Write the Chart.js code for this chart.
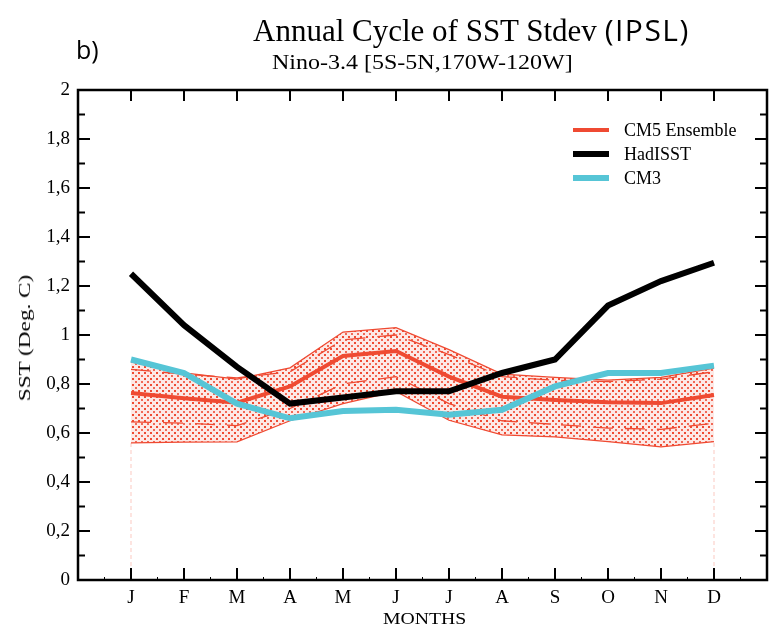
<!DOCTYPE html>
<html>
<head>
<meta charset="utf-8">
<script src="https://cdn.jsdelivr.net/npm/chart.js@4"></script>
<style>
  body { margin: 0; background: #fff; }
  #wrap { position: relative; width: 771px; height: 630px; }
  .t { position: absolute; white-space: nowrap; color: #000; line-height: 1; }
  #title { left: 253px; top: 9px; font: 31px "Liberation Serif", serif; }
  #title span { font: 30px "Open Sans", sans-serif; letter-spacing: 1.5px; }
  #sub { left: 272px; top: 51px; font: 20px "Liberation Serif", serif; transform: scaleX(1.2); transform-origin: 0 0; }
  #panel { left: 76px; top: 32px; font: 25px "Open Sans", sans-serif; }
  #xt { left: 383px; top: 609px; font: 17px "Liberation Serif", serif; transform: scaleX(1.16); transform-origin: 0 0; }
  #yt { left: 25px; top: 338px; font: 16px "Liberation Serif", serif; transform: translate(-50%, -50%) rotate(-90deg) scaleX(1.45); }
  .lg { position: absolute; left: 573px; font: 18px "Liberation Serif", serif; height: 20px; line-height: 20px; width: 190px; white-space: nowrap; }
  .lg i { position: absolute; left: 0; width: 36px; top: 50%; }
  .lg b { position: absolute; left: 51px; font-weight: normal; }
</style>
</head>
<body>
<div id="wrap">
  <canvas id="Chart" width="771" height="630"></canvas>
  <div class="t" id="panel">b)</div>
  <div class="t" id="title">Annual Cycle of SST Stdev <span>(IPSL)</span></div>
  <div class="t" id="sub">Nino-3.4 [5S-5N,170W-120W]</div>
  <div class="t" id="xt">MONTHS</div>
  <div class="t" id="yt">SST (Deg. C)</div>
  <div class="lg" style="top:120px"><i style="height:4px;margin-top:-2px;background:#ef4a32"></i><b>CM5 Ensemble</b></div>
  <div class="lg" style="top:144px"><i style="height:6px;margin-top:-3px;background:#000"></i><b>HadISST</b></div>
  <div class="lg" style="top:168px"><i style="height:6px;margin-top:-3px;background:#56c5d6"></i><b>CM3</b></div>
</div>
<script>
// 月ラベルとデータ
const months = ['J', 'F', 'M', 'A', 'M', 'J', 'J', 'A', 'S', 'O', 'N', 'D'];
const hadisst = [1.25, 1.04, 0.87, 0.72, 0.745, 0.77, 0.77, 0.845, 0.90, 1.12, 1.22, 1.295];
const cm3 = [0.90, 0.845, 0.72, 0.66, 0.69, 0.695, 0.675, 0.695, 0.79, 0.845, 0.845, 0.875];
const cm5Mean = [0.763, 0.742, 0.724, 0.79, 0.914, 0.935, 0.83, 0.748, 0.735, 0.726, 0.722, 0.755];
const cm5Upper = [0.89, 0.845, 0.82, 0.866, 1.012, 1.03, 0.94, 0.84, 0.827, 0.816, 0.827, 0.865];
const cm5Lower = [0.56, 0.563, 0.564, 0.65, 0.72, 0.77, 0.652, 0.592, 0.584, 0.565, 0.543, 0.565];
const cm5UpperInner = [0.86, 0.84, 0.825, 0.85, 0.98, 1.0, 0.92, 0.83, 0.815, 0.81, 0.82, 0.85];
const cm5LowerInner = [0.645, 0.64, 0.63, 0.70, 0.80, 0.83, 0.72, 0.65, 0.635, 0.62, 0.615, 0.64];
const yTicks = [0, 0.2, 0.4, 0.6, 0.8, 1, 1.2, 1.4, 1.6, 1.8, 2];

const red = '#ef4a32';
const pts = arr => arr.map((v, i) => ({x: i, y: v}));

// 点描パターン
const tile = document.createElement('canvas');
tile.width = 6; tile.height = 6;
const tctx = tile.getContext('2d');
tctx.fillStyle = 'rgba(239,74,50,0.12)';
tctx.fillRect(0, 0, 6, 6);
tctx.fillStyle = red;
tctx.fillRect(0, 0, 2, 2);
tctx.fillStyle = 'rgba(239,74,50,0.8)';
tctx.fillRect(3, 3, 2, 2);
const dots = document.getElementById('Chart').getContext('2d').createPattern(tile, 'repeat');

// 枠と内向きの目盛り
const frame = {
	id: 'frame',
	afterDatasetsDraw(chart) {
		const {ctx, chartArea: a, scales: {x, y}} = chart;
		ctx.save();
		ctx.strokeStyle = '#000';
		ctx.lineWidth = 2;
		ctx.beginPath();
		months.forEach((m, i) => {
			const px = x.getPixelForValue(i);
			ctx.moveTo(px, a.bottom); ctx.lineTo(px, a.bottom - 12);
			ctx.moveTo(px, a.top); ctx.lineTo(px, a.top + 11);
		});
		for (let k = 1; k < 20; k++) {
			const py = y.getPixelForValue(k / 10);
			const len = k % 2 ? 7 : 12;
			ctx.moveTo(a.left, py); ctx.lineTo(a.left + len, py);
			ctx.moveTo(a.right, py); ctx.lineTo(a.right - len, py);
		}
		ctx.stroke();
		ctx.lineWidth = 1;
		ctx.beginPath();
		for (let i = -0.5; i < 12; i++) {
			const px = x.getPixelForValue(i);
			ctx.moveTo(px, a.bottom); ctx.lineTo(px, a.bottom - 3);
		}
		ctx.stroke();
		ctx.lineWidth = 2.5;
		ctx.strokeRect(a.left, a.top, a.right - a.left, a.bottom - a.top);
		ctx.restore();
	}
};

const fontSerif = {family: '"Liberation Serif", serif', size: 19};

let lineCtx = document.getElementById('Chart');
let lineConfig = {
	type: 'line',
	data: {
		datasets: [{
			label: 'CM3',
			data: pts(cm3),
			borderColor: '#56c5d6',
			borderWidth: 6,
			order: 0,
		}, {
			label: 'HadISST',
			data: pts(hadisst),
			borderColor: '#000',
			borderWidth: 6,
			order: 1,
		}, {
			label: 'CM5 Ensemble',
			data: pts(cm5Mean),
			borderColor: red,
			borderWidth: 4,
			order: 2,
		}, {
			label: 'inner upper',
			data: pts(cm5UpperInner),
			borderColor: red,
			borderWidth: 1.3,
			borderDash: [20, 12],
			order: 3,
		}, {
			label: 'inner lower',
			data: pts(cm5LowerInner),
			borderColor: red,
			borderWidth: 1.3,
			borderDash: [20, 12],
			order: 3,
		}, {
			label: 'upper',
			data: pts(cm5Upper),
			borderColor: red,
			borderWidth: 1.3,
			backgroundColor: dots,
			fill: '+1',
			order: 4,
		}, {
			label: 'lower',
			data: pts(cm5Lower),
			borderColor: red,
			borderWidth: 1.3,
			order: 5,
		}, {
			label: 'edge J',
			data: [{x: 0, y: 0}, {x: 0, y: cm5Lower[0]}],
			borderColor: 'rgba(239,74,50,0.3)',
			borderWidth: 1,
			borderDash: [4, 3],
			order: 6,
		}, {
			label: 'edge D',
			data: [{x: 11, y: 0}, {x: 11, y: cm5Lower[11]}],
			borderColor: 'rgba(239,74,50,0.3)',
			borderWidth: 1,
			borderDash: [4, 3],
			order: 6,
		}],
	},
	options: {
		responsive: false,
		animation: false,
		devicePixelRatio: 1,
		layout: {padding: {top: 90, right: 4, left: 0, bottom: 0}},
		elements: {point: {radius: 0}, line: {tension: 0, borderJoinStyle: 'miter'}},
		plugins: {legend: {display: false}, tooltip: {enabled: false}},
		scales: {
			x: {
				type: 'linear',
				min: -1,
				max: 12,
				afterFit(scale) { scale.height = 50; },
				afterBuildTicks(scale) { scale.ticks = months.map((m, i) => ({value: i})); },
				ticks: {
					autoSkip: false,
					maxRotation: 0,
					padding: 7,
					color: '#000',
					font: fontSerif,
					callback: v => months[v] ?? '',
				},
				grid: {display: false, drawTicks: false},
				border: {display: false},
			},
			y: {
				min: 0,
				max: 2,
				afterFit(scale) { scale.width = 78; },
				afterBuildTicks(scale) { scale.ticks = yTicks.map(v => ({value: v})); },
				ticks: {
					padding: 8,
					color: '#000',
					font: fontSerif,
					callback: v => String(Math.round(v * 10) / 10).replace('.', ','),
				},
				grid: {display: false, drawTicks: false},
				border: {display: false},
			},
		},
	},
	plugins: [frame],
};
let lineChart = new Chart(lineCtx, lineConfig);
</script>
</body>
</html>
